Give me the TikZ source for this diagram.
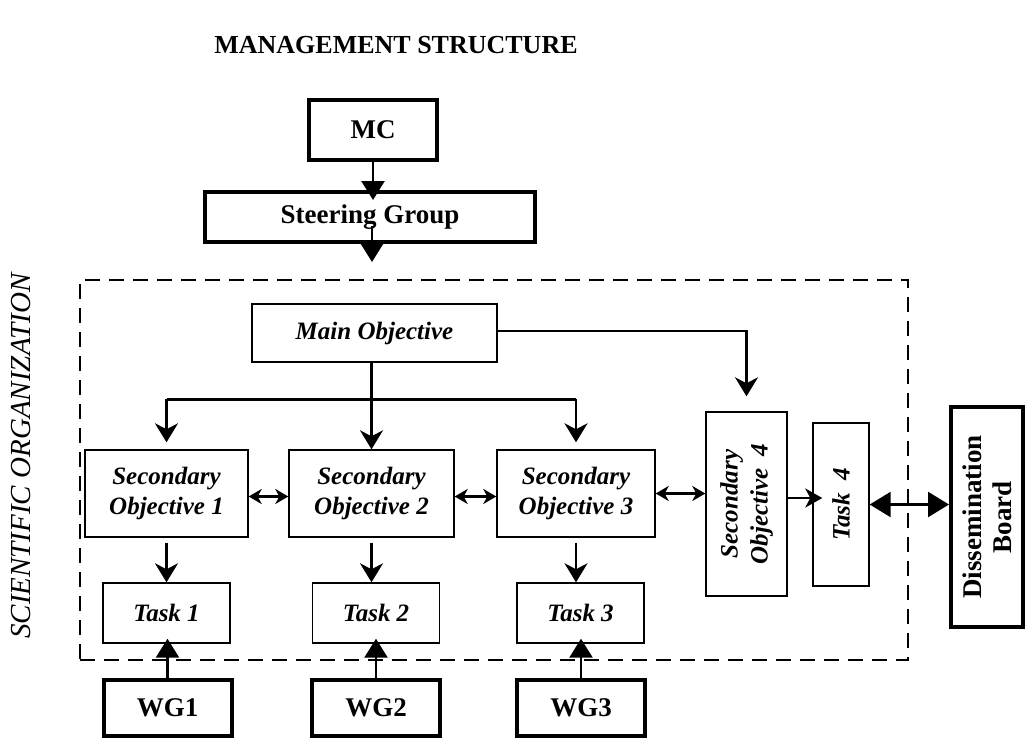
\documentclass[tikz,border=0pt]{standalone}
\usepackage{fontspec}
\setmainfont{Liberation Serif}
\usetikzlibrary{arrows.meta}
\begin{document}
\begin{tikzpicture}[x=1pt,y=-1pt,
  thinbox/.style={draw,line width=1.4pt,inner sep=0pt,align=center,font=\fontsize{25}{30}\selectfont\bfseries\itshape},
  thickbox/.style={draw,line width=4pt,inner sep=0pt,align=center,font=\fontsize{27}{30}\selectfont\bfseries},
  rottext/.style={rotate=90,align=center,inner sep=0pt},
  conn/.style={line width=2.5pt},
  bigstealth/.style={conn,-{Stealth[length=19pt,width=23pt,inset=6pt]}},
  midstealth/.style={conn,-{Stealth[length=17pt,width=19pt,inset=5pt]}},
  smalldbl/.style={conn,{Stealth[length=13pt,width=15pt,inset=4pt]}-{Stealth[length=13pt,width=15pt,inset=4pt]}},
  tri/.style={conn,-{Triangle[length=19pt,width=23pt]}},
  bigdbl/.style={conn,{Triangle[length=21pt,width=25pt]}-{Triangle[length=21pt,width=25pt]}},
  dashbox/.style={draw,line width=2.5pt,dash pattern=on 15pt off 9pt,inner sep=0pt}
]
\useasboundingbox (0,0) rectangle (1028,740);

\node[font=\fontsize{26}{30}\selectfont\bfseries] (title) at (396,45) {MANAGEMENT STRUCTURE};
\node[rottext,font=\fontsize{29}{30}\selectfont\itshape] (side) at (21,456) {SCIENTIFIC ORGANIZATION};

\node[thickbox,minimum width=128pt,minimum height=60pt] (mc) at (373,130) {MC};
\node[thickbox,minimum width=330pt,minimum height=50pt] (sg) at (370,217) {Steering Group};

\node[dashbox,minimum width=828pt,minimum height=380pt] (sci) at (494,470) {};

\node[thinbox,minimum width=245pt,minimum height=58pt] (mo) at (374.5,333) {Main Objective};
\node[thinbox,minimum width=163pt,minimum height=87pt] (so1) at (166.5,493.5) {Secondary\\Objective 1};
\node[thinbox,minimum width=165pt,minimum height=87pt] (so2) at (371.5,493.5) {Secondary\\Objective 2};
\node[thinbox,minimum width=158pt,minimum height=87pt] (so3) at (576,493.5) {Secondary\\Objective 3};
\node[thinbox,minimum width=81pt,minimum height=184pt] (so4) at (746.5,504) {};
\node[rottext,font=\fontsize{25}{30}\selectfont\bfseries\itshape] (so4t) at (so4.center) {Secondary\\Objective~~4};
\node[thinbox,minimum width=56pt,minimum height=163pt] (t4) at (841,504.5) {};
\node[rottext,font=\fontsize{25}{30}\selectfont\bfseries\itshape] (t4t) at (t4.center) {Task~~4};
\node[thickbox,minimum width=72pt,minimum height=220pt] (db) at (987,517) {};
\node[rottext,font=\fontsize{27}{30}\selectfont\bfseries] (dbt) at (db.center) {Dissemination\\Board};

\node[thinbox,minimum width=127pt,minimum height=60pt] (t1) at (166.5,613) {Task 1};
\node[thinbox,minimum width=127pt,minimum height=60pt] (t2) at (376,613) {Task 2};
\node[thinbox,minimum width=127pt,minimum height=60pt] (t3) at (580.5,613) {Task 3};

\node[thickbox,minimum width=128pt,minimum height=56pt] (wg1) at (167.5,708) {WG1};
\node[thickbox,minimum width=128pt,minimum height=56pt] (wg2) at (376,708) {WG2};
\node[thickbox,minimum width=128pt,minimum height=56pt] (wg3) at (581,708) {WG3};

% management connectors
\draw[tri,shorten >=-10pt] (mc.south) -- (mc.south |- sg.north);
\coordinate (sgtip) at (372,262);
\draw[tri] ([xshift=2pt,yshift=-9pt]sg.center) -- (sgtip);

% main objective
\draw[bigstealth] (mo.south -| so2.north) -- (so2.north);
\draw[conn] ([yshift=50pt]so1.north) -- ([yshift=50pt]so3.north);
\draw[bigstealth,shorten >=7pt] ([yshift=50pt]so1.north) -- (so1.north);
\draw[bigstealth,shorten >=7pt] ([yshift=50pt]so3.north) -- (so3.north);
\draw[bigstealth] ([yshift=2pt]mo.east) -| ([yshift=15pt]so4.north);

% horizontal links
\draw[smalldbl] ([yshift=-3pt]so1.east) -- ([yshift=-3pt]so2.west);
\draw[smalldbl] ([yshift=-3pt]so2.east) -- ([yshift=-3pt]so3.west);
\draw[smalldbl] (so3.east) -- (so4.west |- so3.east);
\draw[midstealth,shorten >=-10pt] (so4.east |- 0,498) -- (t4.west |- 0,498);
\draw[bigdbl] (t4.east) -- (db.west |- t4.east);

% secondary objectives to tasks
\draw[bigstealth,shorten <=5pt] (so1.south) -- (so1.south |- t1.north);
\draw[bigstealth,shorten <=5pt] (so2.south) -- (so2.south |- t2.north);
\draw[bigstealth,shorten <=5pt] (so3.south) -- (so3.south |- t3.north);

% working groups to tasks
\draw[tri,shorten >=-5pt] (wg1.north) -- (wg1.north |- t1.south);
\draw[tri,shorten >=-5pt] (wg2.north) -- (wg2.north |- t2.south);
\draw[tri,shorten >=-5pt] (wg3.north) -- (wg3.north |- t3.south);
\end{tikzpicture}
\end{document}
